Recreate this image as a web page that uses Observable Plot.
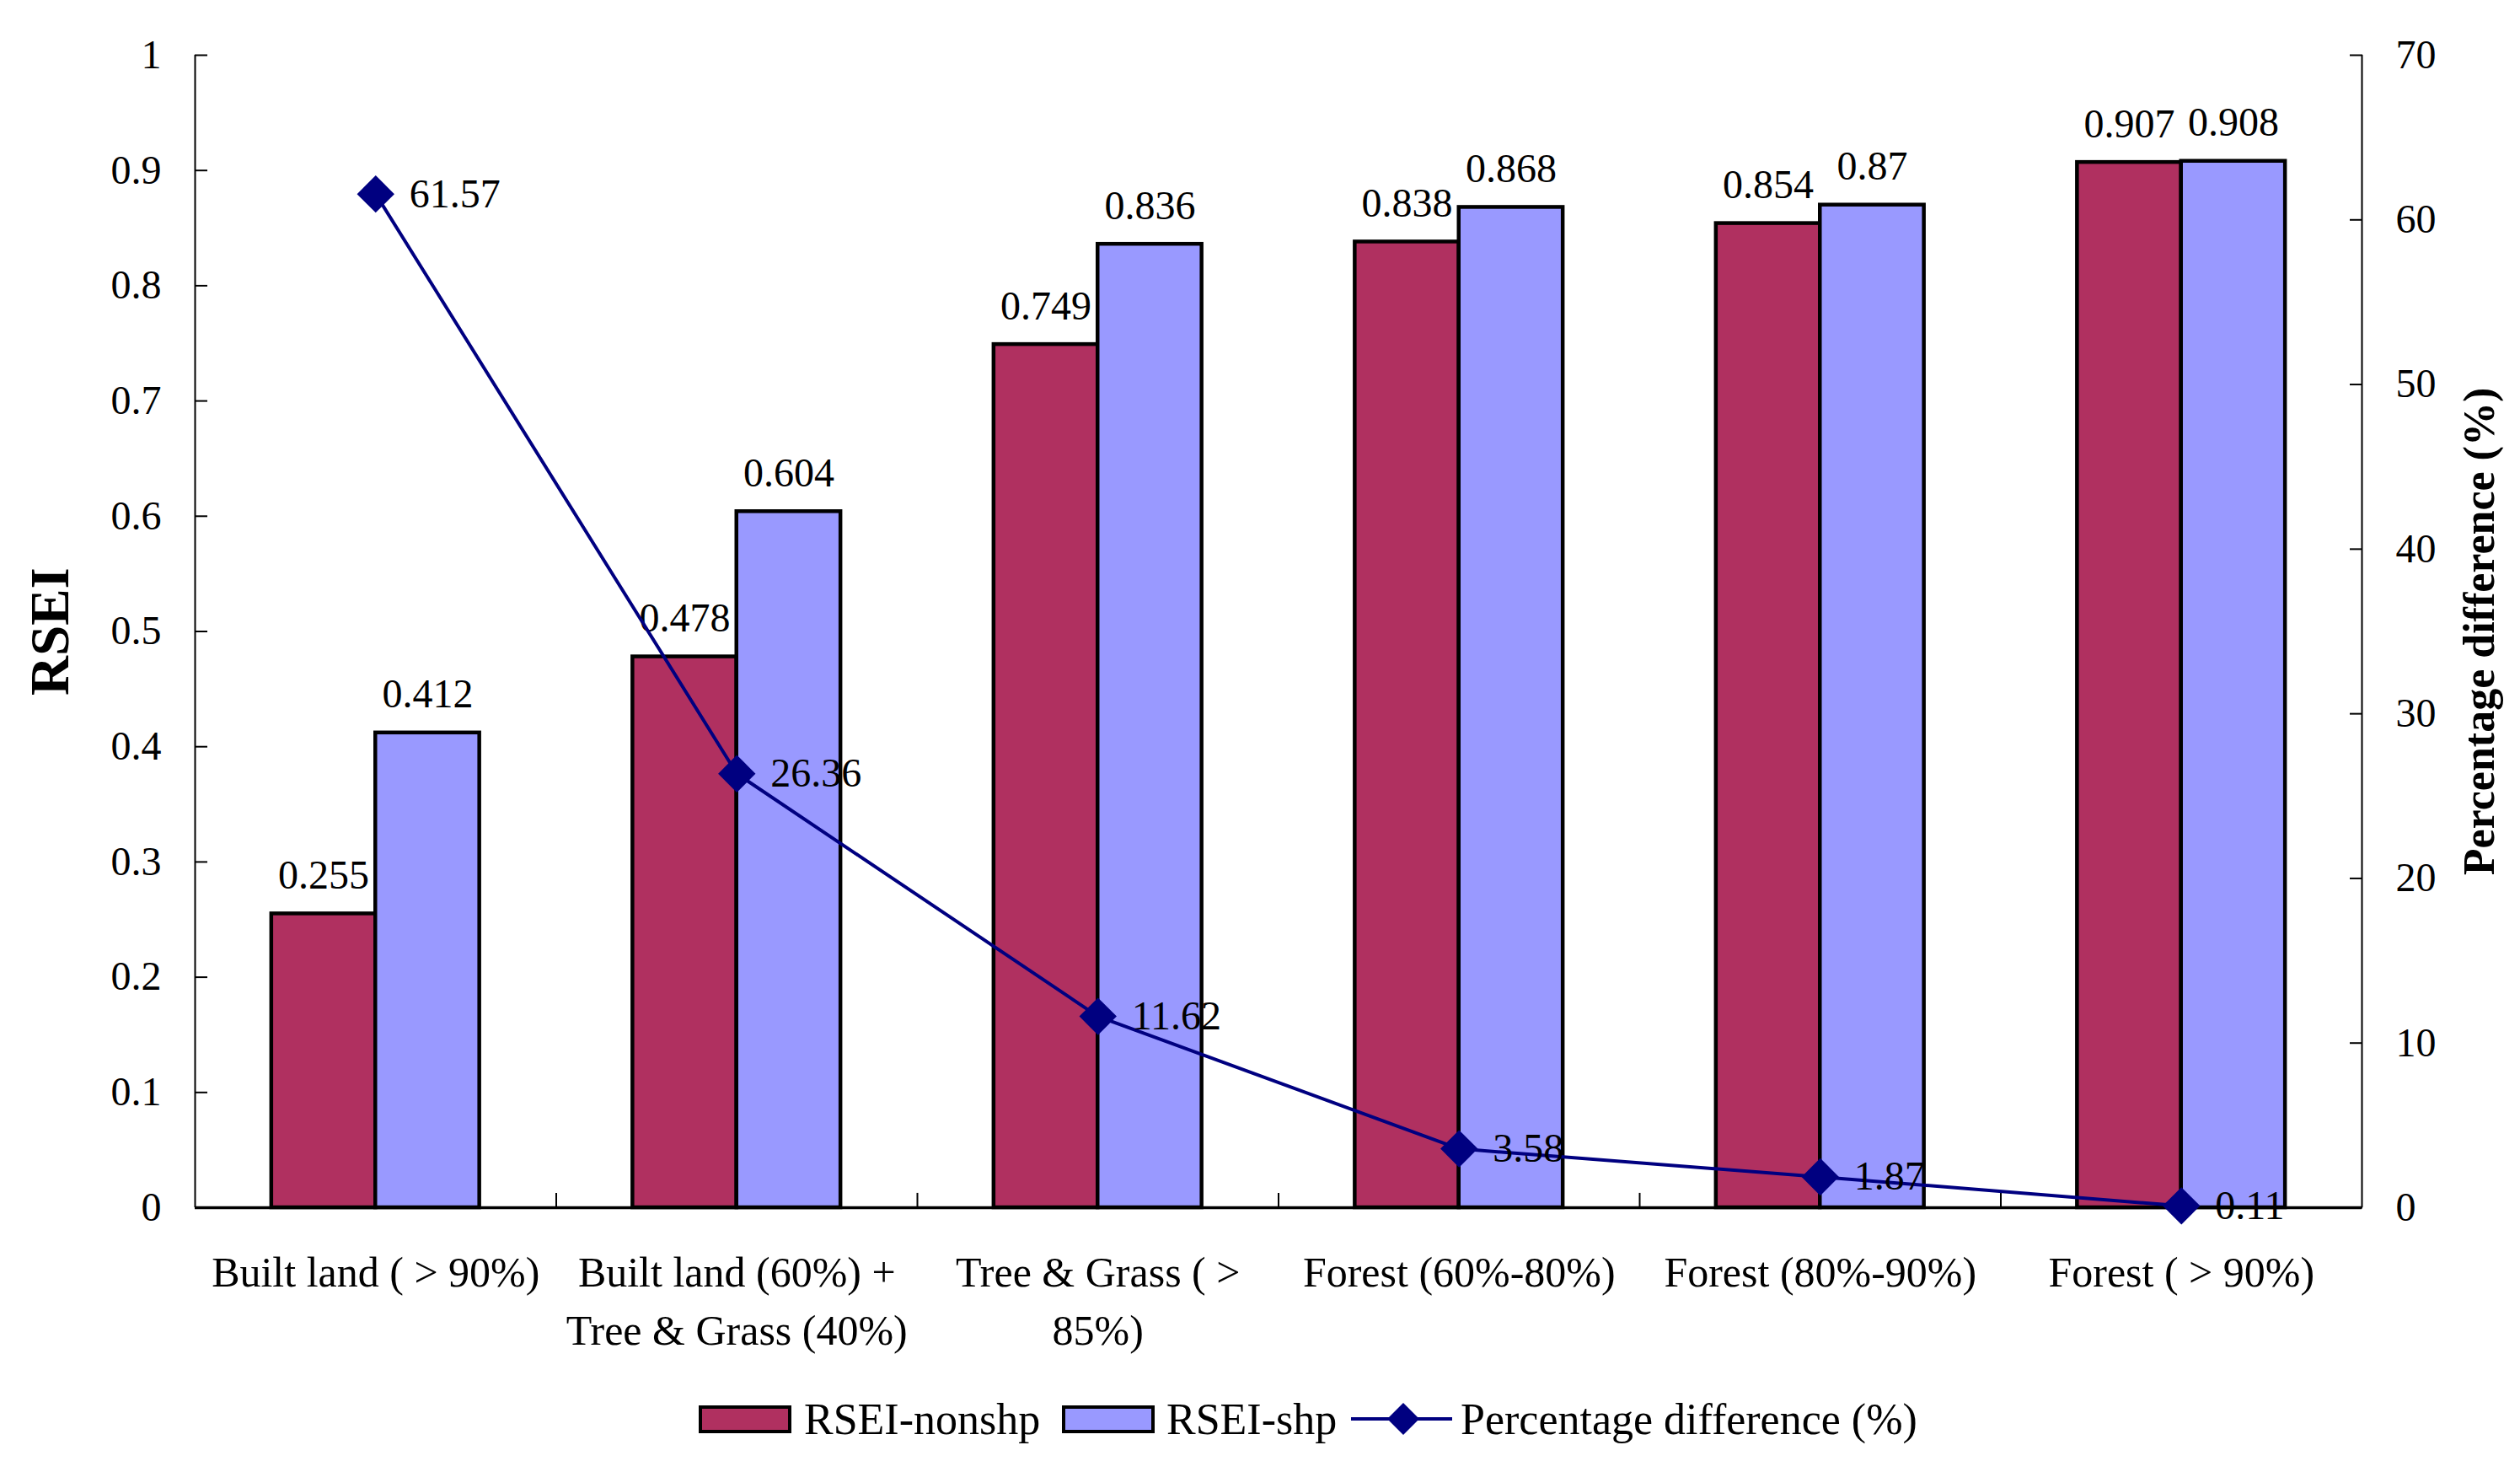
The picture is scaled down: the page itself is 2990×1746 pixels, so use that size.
<!DOCTYPE html>
<html>
<head>
<meta charset="utf-8">
<script src="https://cdn.jsdelivr.net/npm/d3@7"></script>
<script src="https://cdn.jsdelivr.net/npm/@observablehq/plot@0.6"></script>
<style>
  html, body { margin: 0; padding: 0; background: white; }
  body { width: 2990px; font-family: 'Liberation Serif', 'Times New Roman', serif; }
  #legend { position: relative; height: 106px; }
  .item { position: absolute; top: 0; height: 86px; display: flex; align-items: center; font-size: 52px; white-space: nowrap; }
  .sw { width: 110px; height: 33px; box-sizing: border-box; border: 4px solid black; }
</style>
</head>
<body>
<div id="chart"></div>
<div id="legend"></div>
<script>
// ---- data ----
const categories = [
  "Built land ( > 90%)",
  "Built land (60%) +\nTree & Grass (40%)",
  "Tree & Grass ( >\n85%)",
  "Forest (60%-80%)",
  "Forest (80%-90%)",
  "Forest ( > 90%)"
];
const seriesNames = ["RSEI-nonshp", "RSEI-shp"];
const rseiNonshp = [0.255, 0.478, 0.749, 0.838, 0.854, 0.907];
const rseiShp = [0.412, 0.604, 0.836, 0.868, 0.87, 0.908];
const pctDiff = [61.57, 26.36, 11.62, 3.58, 1.87, 0.11];
const pctName = "Percentage difference (%)";
const leftTicks = [0, 0.1, 0.2, 0.3, 0.4, 0.5, 0.6, 0.7, 0.8, 0.9, 1];
const rightTicks = [0, 10, 20, 30, 40, 50, 60, 70];
const pctMax = 70;

// ---- styles ----
const colors = ["#B03060", "#9999FF"];
const navy = "#000080";
const barW = 0.288;

const bars = [];
categories.forEach((c, i) => {
  bars.push({i, series: seriesNames[0], k: 0, value: rseiNonshp[i]});
  bars.push({i, series: seriesNames[1], k: 1, value: rseiShp[i]});
});
const pts = pctDiff.map((p, i) => ({i, p}));
const boundaries = d3.range(categories.length - 1).map(i => i + 0.5);

const chart = Plot.plot({
  width: 2990,
  height: 1640,
  marginLeft: 231,
  marginRight: 188,
  marginTop: 65,
  marginBottom: 208,
  style: {fontFamily: "'Liberation Serif', 'Times New Roman', serif", fontSize: "48px", background: "white", color: "black"},
  x: {type: "linear", domain: [-0.5, categories.length - 0.5]},
  y: {domain: [0, 1]},
  color: {domain: seriesNames, range: colors},
  marks: [
    Plot.rect(bars, {
      x1: d => d.k === 0 ? d.i - barW : d.i,
      x2: d => d.k === 0 ? d.i : d.i + barW,
      y1: 0, y2: "value",
      fill: "series", stroke: "black", strokeWidth: 4.5
    }),
    Plot.ruleX([-0.5], {y1: 0, y2: 1, strokeWidth: 2}),
    Plot.ruleX([categories.length - 0.5], {y1: 0, y2: 1, strokeWidth: 2}),
    Plot.ruleX(boundaries, {y1: 0, y2: 0.0125, strokeWidth: 2}),
    Plot.ruleY([0], {strokeWidth: 3.5}),
    Plot.axisY(leftTicks, {anchor: "left", tickSize: -15, tickPadding: 55, strokeWidth: 2, fontSize: 48, tickFormat: d => String(+d.toFixed(1)), label: null}),
    Plot.axisY(rightTicks.map(v => v / pctMax), {anchor: "right", tickSize: -15, tickPadding: 55, strokeWidth: 2, fontSize: 48, tickFormat: d => String(Math.round(d * pctMax)), label: null}),
    Plot.axisX(d3.range(categories.length), {anchor: "bottom", tickSize: 0, tickPadding: 45, fontSize: 50, lineHeight: 1.38, tickFormat: i => categories[i], label: null}),
    Plot.text(bars, {
      x: d => d.k === 0 ? d.i - barW / 2 : d.i + barW / 2,
      y: "value",
      text: d => String(d.value),
      lineAnchor: "bottom", dy: -30, fontSize: 48
    }),
    Plot.line(pts, {x: "i", y: d => d.p / pctMax, stroke: navy, strokeWidth: 4}),
    Plot.dot(pts, {x: "i", y: d => d.p / pctMax, symbol: "diamond2", r: 20, fill: navy, stroke: "none"}),
    Plot.text(pts, {x: "i", y: d => d.p / pctMax, text: d => String(d.p), textAnchor: "start", dx: 40, fontSize: 48}),
    Plot.text(["RSEI"], {frameAnchor: "left", textAnchor: "middle", dx: -171, rotate: -90, fontSize: 65, fontWeight: "bold"}),
    Plot.text([pctName], {frameAnchor: "right", textAnchor: "middle", dx: 140, rotate: -90, fontSize: 52, fontWeight: "bold"})
  ]
});
document.getElementById("chart").appendChild(chart);

// ---- legend ----
const legend = document.getElementById("legend");
function addItem(left, inner) {
  const el = document.createElement("div");
  el.className = "item";
  el.style.left = left + "px";
  el.innerHTML = inner;
  legend.appendChild(el);
}
addItem(829, `<div class="sw" style="background:${colors[0]}"></div><span style="margin-left:15px">${seriesNames[0]}</span>`);
addItem(1260, `<div class="sw" style="background:${colors[1]}"></div><span style="margin-left:14px">${seriesNames[1]}</span>`);
addItem(1603, `<svg width="120" height="46" viewBox="0 0 120 46"><line x1="0" y1="23" x2="120" y2="23" stroke="${navy}" stroke-width="4"/><path d="M62,4L81,23L62,42L43,23Z" fill="${navy}"/></svg><span style="margin-left:10px">${pctName}</span>`);
</script>
</body>
</html>
